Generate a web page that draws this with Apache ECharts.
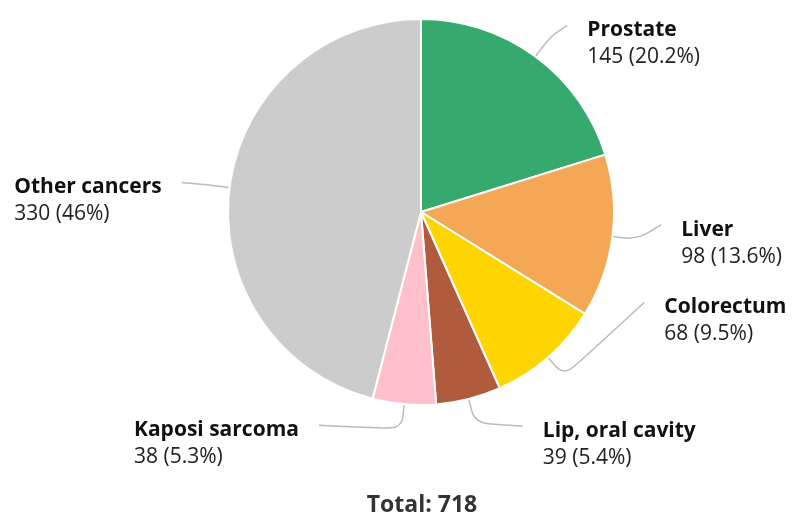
<!DOCTYPE html>
<html><head><meta charset="utf-8">
<script src="https://cdn.jsdelivr.net/npm/echarts@6/dist/echarts.min.js"></script>
<style>html,body{margin:0;padding:0;background:#fff}#c{width:792px;height:517px}</style>
</head><body><div id="c"></div>
<script>
const categories = ["Prostate", "Liver", "Colorectum", "Lip, oral cavity", "Kaposi sarcoma", "Other cancers"];
const values = [145, 98, 68, 39, 38, 330];
const colors = ["#36a96f", "#f4a755", "#ffd500", "#b05a3e", "#ffc0cb", "#cccccc"];
const total = values.reduce((a, b) => a + b, 0);

// label-line layout tweaks (style, not data)
const lineLen2 = [17, 24, 80, 48, 83, 23];
const lineShiftY = [-11, -15, -74, 3, -4, -2];
const labelGap = 20;

function pct(v) {
  let s = (v / total * 100).toFixed(1);
  if (s.endsWith('.0')) s = s.slice(0, -2);
  return s + '%';
}

const chart = echarts.init(document.getElementById('c'), null, {renderer: 'canvas'});
chart.setOption({
  animation: false,
  textStyle: {fontFamily: 'Open Sans'},
  graphic: [{
    type: 'text', x: 422, y: 505,
    style: {text: 'Total: ' + total, font: 'bold 23px "Open Sans"', fill: '#333',
            align: 'center', verticalAlign: 'middle'}
  }],
  series: [{
    type: 'pie',
    center: [421, 212],
    radius: [0, 193],
    startAngle: 90,
    clockwise: true,
    avoidLabelOverlap: false,
    data: categories.map((c, i) => ({
      name: c, value: values[i], itemStyle: {color: colors[i]},
      labelLine: {length2: lineLen2[i]}
    })),
    itemStyle: {borderColor: '#fff', borderWidth: 2},
    label: {
      show: true,
      position: 'outside',
      formatter: p => '{n|' + p.name + '}\n{v|' + p.value + ' (' + pct(p.value) + ')}',
      padding: [27, 0, 0, 0],
      rich: {
        n: {fontFamily: 'Open Sans', fontWeight: 'bold', fontSize: 21, color: '#111', lineHeight: 27, align: 'left'},
        v: {fontFamily: 'Open Sans', fontSize: 21, color: '#222', lineHeight: 27, align: 'left'}
      }
    },
    labelLine: {
      show: true, length: 25, length2: 20, smooth: 0.3,
      lineStyle: {color: '#bbbbbb', width: 1.5}
    },
    labelLayout: function (params) {
      const pts = params.labelLinePoints;
      if (!pts || pts.length < 3) return {};
      const i = params.dataIndex;
      const p0 = [pts[0][0], pts[0][1]];
      const p1 = [pts[1][0], pts[1][1]];
      const p2 = [pts[2][0], pts[2][1] + lineShiftY[i]];
      const right = p2[0] >= p1[0];
      return {
        x: right ? p2[0] + labelGap : p2[0] - labelGap,
        y: p2[1] + 5,
        labelLinePoints: [p0, p1, p2]
      };
    }
  }]
});
</script></body></html>
